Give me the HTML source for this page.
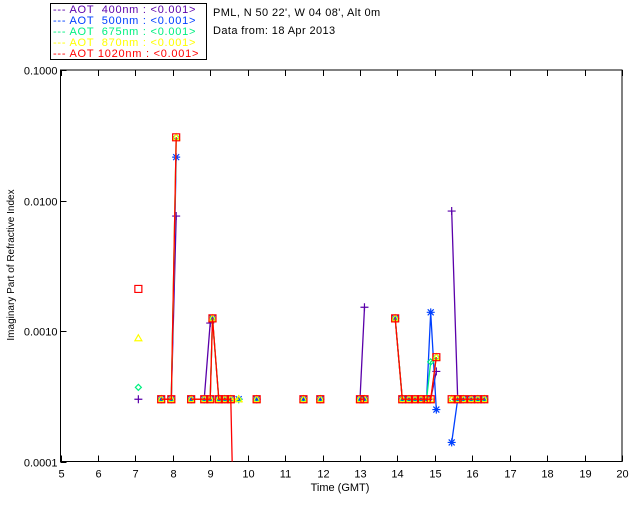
<!DOCTYPE html>
<html><head><meta charset="utf-8"><style>
html,body{margin:0;padding:0;background:#fff;overflow:hidden;width:640px;height:512px;}
svg{display:block;font-family:"Liberation Sans","DejaVu Sans",sans-serif;}
</style></head><body>
<svg id="chart" width="640" height="512" viewBox="0 0 640 512" xmlns="http://www.w3.org/2000/svg">
<rect width="640" height="512" fill="#fff"/>
<g font-size="11" letter-spacing="0.75">
<rect x="50.5" y="3.5" width="156" height="56" fill="none" stroke="#000"/>
<text x="53" y="13" fill="#5a00aa" xml:space="preserve">--- AOT  400nm : &lt;0.001&gt;</text>
<text x="53" y="24" fill="#0040ff" xml:space="preserve">--- AOT  500nm : &lt;0.001&gt;</text>
<text x="53" y="35" fill="#00f080" xml:space="preserve">--- AOT  675nm : &lt;0.001&gt;</text>
<text x="53" y="46" fill="#ffff00" xml:space="preserve">--- AOT  870nm : &lt;0.001&gt;</text>
<text x="53" y="57" fill="#ff0000" xml:space="preserve">--- AOT 1020nm : &lt;0.001&gt;</text>
</g>
<text x="213" y="16" font-size="11" letter-spacing="0.4">PML, N 50 22', W 04 08', Alt 0m</text>
<text x="213" y="34" font-size="11" letter-spacing="0.4">Data from: 18 Apr 2013</text>
<g id="axes"></g>
<g id="series"></g>
<text x="340" y="491" font-size="11" text-anchor="middle">Time (GMT)</text>
<text transform="translate(14,265) rotate(-90)" font-size="10" text-anchor="middle">Imaginary Part of Refractive Index</text>
</svg>
<script>
const times = [7.08,7.69,7.96,8.09,8.49,8.84,9.00,9.06,9.23,9.39,9.55,9.76,10.24,11.49,11.94,13.00,13.12,13.94,14.13,14.31,14.47,14.63,14.78,14.89,15.04,15.45,15.61,15.76,15.97,16.15,16.32];
const B = 0.0003;
const v400 = [0.0003,B,B,0.0076,B,B,0.00115,null,B,B,B,null,B,B,B,B,0.00152,0.00125,B,B,B,B,B,B,0.00049,0.0083,B,B,B,B,B];
const v500 = [null,B,B,0.0215,B,B,B,0.00125,B,B,B,0.0003,B,B,B,B,B,0.00125,B,B,B,B,B,0.00139,0.00025,0.00014,B,B,B,B,B];
const v675 = [0.00037,B,B,0.0305,B,B,B,0.00125,B,B,B,0.0003,B,B,B,B,B,0.00125,B,B,B,B,B,0.00058,0.00063,B,B,B,B,B,B];
const v870 = [0.00088,B,B,0.0305,B,B,B,0.00125,B,B,B,0.0003,B,B,B,B,B,0.00125,B,B,B,B,B,B,0.00063,B,B,B,B,B,B];
const v1020 = [0.0021,B,B,0.0305,B,B,B,0.00125,B,B,B,1e-9,B,B,B,B,B,0.00125,B,B,B,B,B,B,0.00063,B,B,B,B,B,B];
const xTicks = [5,6,7,8,9,10,11,12,13,14,15,16,17,18,19,20];
const yTicks = [0.0001,0.001,0.01,0.1];
const yTickLabels = ["0.0001","0.0010","0.0100","0.1000"];

const L=60.5,R=622,T=70,Bt=461.5;
const X = t => L + (t-5)*(R-L)/15;
const Y = v => Bt - (Math.log10(v)+4)*(Bt-T)/3;
const NS="http://www.w3.org/2000/svg";
function mk(tag, attrs, parent){const e=document.createElementNS(NS,tag);for(const k in attrs)e.setAttribute(k,attrs[k]);parent.appendChild(e);return e;}
const ax=document.getElementById('axes');
const frame=mk('rect',{x:L,y:T,width:R-L,height:Bt-T,fill:'none',stroke:'#000','stroke-width':1},ax);


xTicks.forEach(t=>{
  const x=Math.round(X(t))+0.5;
  const tk=mk('path',{d:`M${x},${Bt}v-6M${x},${T}v6`,stroke:'#000'},ax);
  
  
  const lb=mk('text',{x:x,y:Bt+16,'font-size':11,'text-anchor':'middle'},ax);
  lb.textContent=t;
  
  
});
yTicks.forEach((v,i)=>{
  const y=Math.round(Y(v))+0.5;
  const tk=mk('path',{d:`M${L},${y}h6`,stroke:'#000'},ax);
  
  
  const lb=mk('text',{x:L-3,y:y+4,'font-size':11,'text-anchor':'end'},ax);
  lb.textContent=yTickLabels[i];
  
  
});
const sg=document.getElementById('series');
const clip=mk('clipPath',{id:'pc'},sg);
mk('rect',{x:L,y:T,width:R-L,height:Bt-T},clip);
const series=[
 {name:'400nm',vals:v400,color:'#5a00aa',m:'plus'},
 {name:'500nm',vals:v500,color:'#0040ff',m:'star'},
 {name:'675nm',vals:v675,color:'#00f080',m:'diamond'},
 {name:'870nm',vals:v870,color:'#ffff00',m:'tri'},
 {name:'1020nm',vals:v1020,color:'#ff0000',m:'square'}
];
series.forEach(s=>{
  const g=mk('g',{},sg);
  
  
  let d='',prev=null;
  s.vals.forEach((v,i)=>{
    if(v==null){prev=null;return;}
    const x=X(times[i]),y=Math.min(Y(v),Bt+300);
    if(prev!=null && times[i]-times[prev]<0.35) d+=`L${x.toFixed(1)},${y.toFixed(1)}`;
    else d+=`M${x.toFixed(1)},${y.toFixed(1)}`;
    prev=i;
  });
  const ln=mk('path',{d:d,fill:'none',stroke:s.color,'stroke-width':1.3,'clip-path':'url(#pc)'},g);
  
  
  s.vals.forEach((v,i)=>{
    if(v==null)return;
    const x=X(times[i]),y=Y(v);
    if(y>Bt+1||y<T-1)return;
    let p;
    if(s.m==='plus') p=`M${x-4},${y}h8M${x},${y-4}v8`;
    else if(s.m==='star') p=`M${x-4},${y}h8M${x},${y-4}v8M${x-3},${y-3}l6,6M${x-3},${y+3}l6,-6`;
    else if(s.m==='diamond') p=`M${x},${y-3}l3,3l-3,3l-3,-3z`;
    else if(s.m==='tri') p=`M${x},${y-3.5}l3.5,6h-7z`;
    else p=`M${x-3.5},${y-3.5}h7v7h-7z`;
    const mkr=mk('path',{d:p,fill:'none',stroke:s.color,'stroke-width':1.2},g);
    
    
  });
});
</script>
</body></html>
